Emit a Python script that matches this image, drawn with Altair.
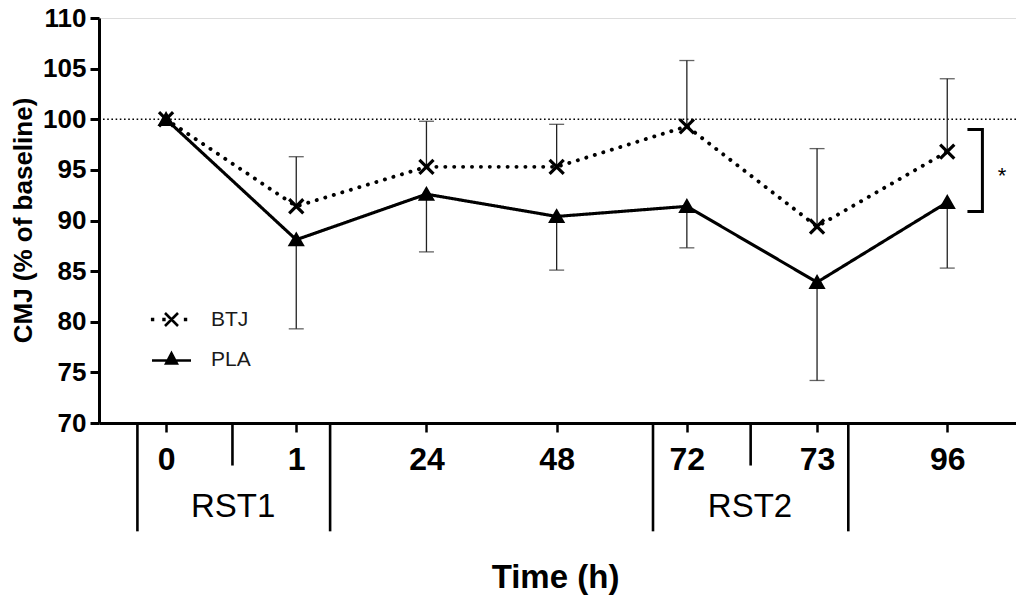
import altair as alt
import pandas as pd

# ---- data ----
time_labels = ["0", "1", "24", "48", "72", "73", "96"]
series_names = ["BTJ", "PLA"]
btj_mean = [100, 91.4, 95.3, 95.3, 99.3, 89.4, 96.8]
btj_upper = [None, 96.3, 99.8, 99.5, 105.8, 97.1, 104.0]
pla_mean = [100, 88.1, 92.6, 90.4, 91.4, 83.9, 91.8]
pla_lower = [None, 79.3, 86.9, 85.1, 87.3, 74.2, 85.3]

baseline_value = 100
y_ticks = [70, 75, 80, 85, 90, 95, 100, 105, 110]

# session dividers below the time axis (category-index units / y units)
divider_x = [-0.22, 0.51, 1.26, 3.74, 4.49, 5.24]
divider_end = [59.3, 65.8, 59.3, 59.3, 65.8, 59.3]
session_labels = ["RST1", "RST2"]
session_x = [0.515, 4.485]
session_y = [60.75, 60.75]

# significance bracket
bracket_x = [6.155, 6.27, 6.27, 6.155]
bracket_y = [99.0, 99.0, 90.9, 90.9]
star_text = ["*"]
star_x = [6.42]
star_y = [93.7]

# ---- tables ----
n = len(time_labels)
rows = []
for i in range(n):
    rows.append({"idx": i, "series": "PLA", "mean": pla_mean[i], "bound": pla_lower[i]})
for i in range(n):
    rows.append({"idx": i, "series": "BTJ", "mean": btj_mean[i], "bound": btj_upper[i]})
df = pd.DataFrame(rows)

div_df = pd.DataFrame({"x": divider_x, "y": [y_ticks[0]] * len(divider_x), "y2": divider_end})
ses_df = pd.DataFrame({"x": session_x, "y": session_y, "label": session_labels})
br_df = pd.DataFrame({"x": bracket_x, "y": bracket_y, "order": list(range(len(bracket_x)))})
star_df = pd.DataFrame({"x": star_x, "y": star_y, "label": star_text})
base_df = pd.DataFrame({"y": [baseline_value]})

FONT = "Liberation Sans"
label_expr = "[" + ",".join("'%s'" % t for t in time_labels) + "][datum.value]"

x_scale = alt.Scale(domain=[-0.515, 6.528], nice=False, zero=False)
y_scale = alt.Scale(domain=[y_ticks[0], y_ticks[-1]], nice=False, zero=False)

x_axis = alt.Axis(
    values=list(range(n)), labelExpr=label_expr, title="Time (h)", grid=False,
    labelFont=FONT, labelFontSize=32, labelFontWeight="bold", labelColor="black",
    labelPadding=12, labelFlush=False,
    tickSize=9, tickWidth=2.5, tickColor="black",
    domainWidth=3, domainColor="black",
    titleFont=FONT, titleFontSize=33, titleFontWeight="bold", titleColor="black",
    titleX=456, titleY=164, titleBaseline="alphabetic", titleAnchor="start", titleAlign="center",
)
y_axis = alt.Axis(
    values=y_ticks, title="CMJ (% of baseline)", grid=False,
    labelFont=FONT, labelFontSize=26, labelFontWeight="bold", labelColor="black",
    labelPadding=4,
    tickSize=9, tickWidth=3, tickColor="black",
    domainWidth=3, domainColor="black",
    titleFont=FONT, titleFontSize=26, titleFontWeight="bold", titleColor="black",
    titleX=-76, titleY=202, titleBaseline="middle", titleAlign="center", titleAngle=270,
)

X = alt.X("idx:Q", scale=x_scale, axis=x_axis)
Y = alt.Y("mean:Q", scale=y_scale, axis=y_axis)

base = alt.Chart(df)

ref_line = alt.Chart(base_df).mark_rule(color="black", strokeWidth=1.6, strokeDash=[1.6, 2.6]).encode(
    y=alt.Y("y:Q", scale=y_scale)
)

err_rule = base.mark_rule(color="#222", strokeWidth=1.3).encode(
    x=X, y=Y, y2="bound:Q"
).transform_filter("isValid(datum.bound)")

err_cap = base.mark_tick(color="#222", thickness=1.3, size=15, orient="horizontal").encode(
    x=X, y=alt.Y("bound:Q", scale=y_scale)
).transform_filter("isValid(datum.bound)")

lines = base.mark_line(color="black", strokeCap="round").encode(
    x=X, y=Y,
    strokeDash=alt.StrokeDash("series:N", scale=alt.Scale(domain=series_names, range=[[0.1, 8.8], [1, 0]]), legend=None),
    strokeWidth=alt.StrokeWidth("series:N", scale=alt.Scale(domain=series_names, range=[3.9, 3.1]), legend=None),
    order="idx:Q",
)

points = base.mark_point(fill="black", stroke="black", strokeWidth=3.2, opacity=1).encode(
    x=X, y=Y,
    shape=alt.Shape("series:N", scale=alt.Scale(domain=series_names,
                    range=["M-1,-1L1,1M-1,1L1,-1", "triangle-up"]), legend=None),
    size=alt.Size("series:N", scale=alt.Scale(domain=series_names, range=[200, 135]), legend=None),
)

legend_paths = [
    # dotted line with an X in the middle
    "M-2.97,-0.06L-2.85,-0.06L-2.85,0.06L-2.97,0.06Z"
    "M-1.22,-0.06L-1.1,-0.06L-1.1,0.06L-1.22,0.06Z"
    "M2.1,-0.06L2.22,-0.06L2.22,0.06L2.1,0.06Z"
    "M-1,-1L1,1M-1,1L1,-1",
    # solid line with a filled triangle (filled by hatching strokes)
    "M-3,0.15L3,0.15"
    "M0,-0.95L0.82,0.6L-0.82,0.6Z"
    "M-0.62,0.27L0.62,0.27M-0.44,-0.07L0.44,-0.07M-0.25,-0.42L0.25,-0.42",
]
legend_layer = base.mark_point(filled=False, color="black", strokeWidth=2.6, opacity=1).encode(
    x=X, y=Y,
    shape=alt.Shape("series:N", scale=alt.Scale(domain=series_names, range=legend_paths),
                    legend=alt.Legend(title=None, orient="none", legendX=62, legendY=291,
                                      symbolSize=169, symbolStrokeWidth=2.6,
                                      symbolStrokeColor="black",
                                      labelFont=FONT, labelFontSize=21, labelColor="#1a1a1a",
                                      labelOffset=29, rowPadding=16)),
).transform_filter("false")

dividers = alt.Chart(div_df).mark_rule(color="black", strokeWidth=2.6).encode(
    x=alt.X("x:Q", scale=x_scale), y=alt.Y("y:Q", scale=y_scale), y2="y2:Q"
)
sessions = alt.Chart(ses_df).mark_text(font=FONT, fontSize=33, color="black", baseline="alphabetic").encode(
    x=alt.X("x:Q", scale=x_scale), y=alt.Y("y:Q", scale=y_scale), text="label:N"
)
bracket = alt.Chart(br_df).mark_line(color="black", strokeWidth=3, strokeJoin="miter").encode(
    x=alt.X("x:Q", scale=x_scale), y=alt.Y("y:Q", scale=y_scale), order="order:Q"
)
star = alt.Chart(star_df).mark_text(font=FONT, fontSize=22, color="black", baseline="alphabetic").encode(
    x=alt.X("x:Q", scale=x_scale), y=alt.Y("y:Q", scale=y_scale), text="label:N"
)

chart = alt.layer(
    ref_line, err_rule, err_cap, lines, points, legend_layer, dividers, sessions, bracket, star
).resolve_scale(
    shape="independent", size="independent"
).properties(
    width=917, height=405,
    autosize=alt.AutoSizeParams(type="none"),
    padding={"left": 91, "top": 10, "right": 0, "bottom": 172},
).configure_view(stroke=None).configure(background="white")

chart.save("out.html", embed_options={"renderer": "svg", "actions": False})
